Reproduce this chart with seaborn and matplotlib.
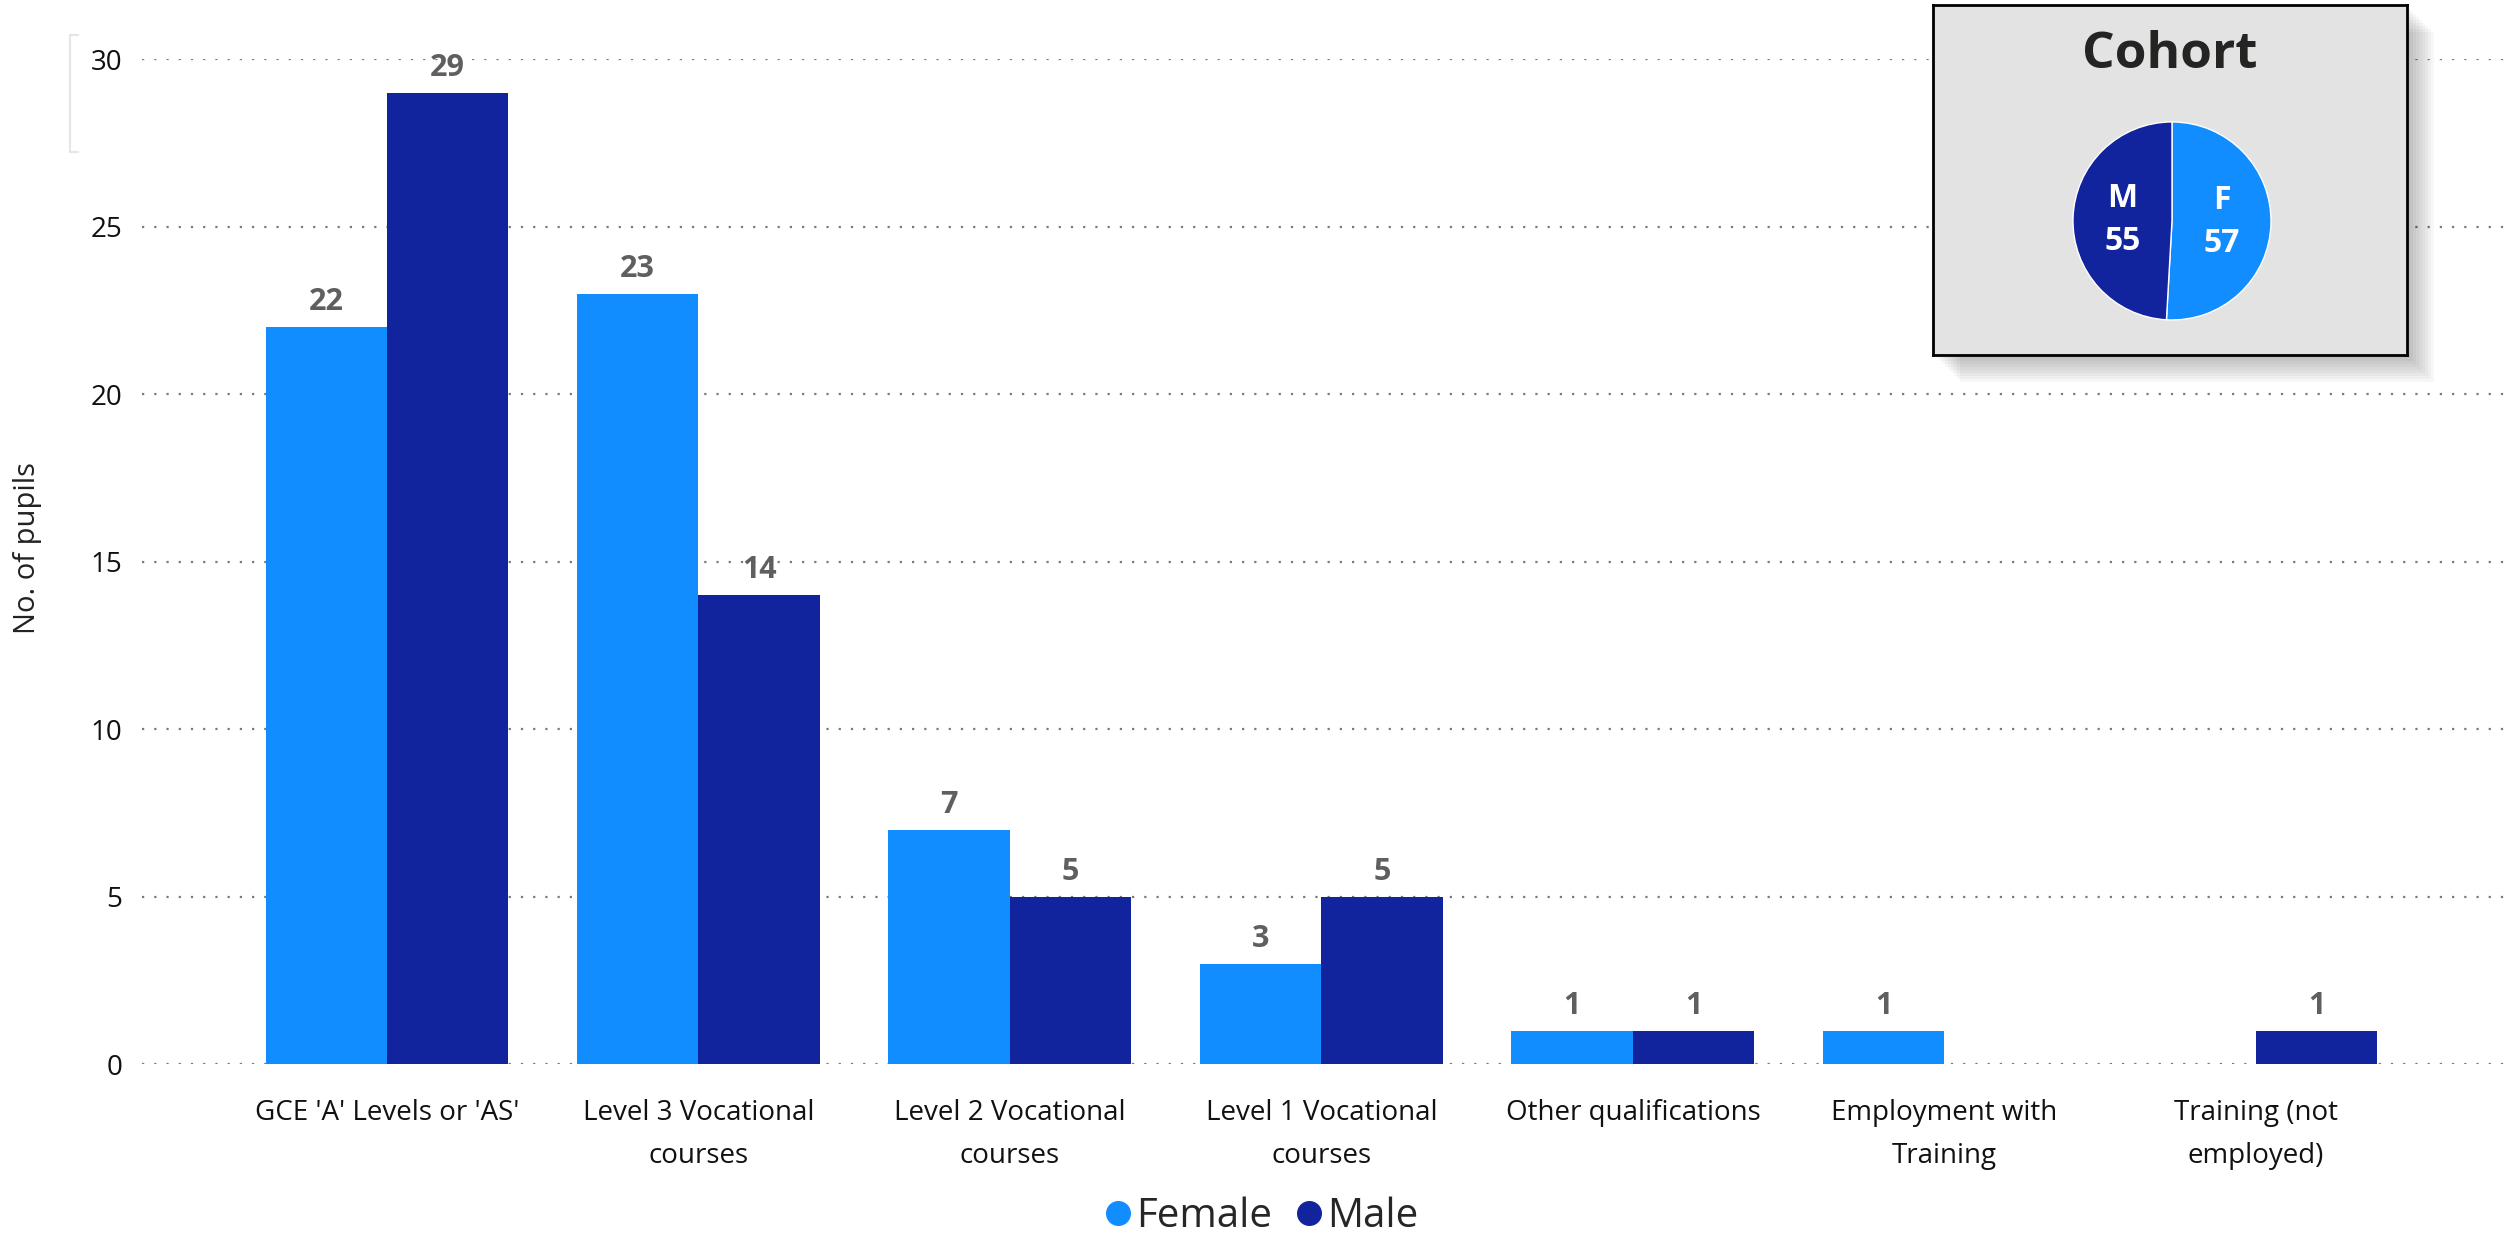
import pandas as pd
import matplotlib.pyplot as plt
import seaborn as sns
from matplotlib.lines import Line2D
from matplotlib.patches import Rectangle

# Data
categories = ["GCE 'A' Levels or 'AS'", "Level 3 Vocational\ncourses", "Level 2 Vocational\ncourses",
              "Level 1 Vocational\ncourses", "Other qualifications", "Employment with\nTraining",
              "Training (not\nemployed)"]
female = [22, 23, 7, 3, 1, 1, 0]
male = [29, 14, 5, 5, 1, 0, 1]
cohort_labels = ["F", "M"]
cohort_values = [57, 55]

female_col = '#118DFF'
male_col = '#12239E'

df = pd.DataFrame({
    'category': categories * 2,
    'pupils': female + male,
    'gender': ['Female'] * len(categories) + ['Male'] * len(categories),
})

sns.set_theme(style="white")
plt.rcParams['font.family'] = ['Open Sans', 'DejaVu Sans']

fig = plt.figure(figsize=(25.2, 12.33), dpi=100)
ax = fig.add_axes([0.0563, 0.137, 0.9385, 0.815])

sns.barplot(data=df, x='category', y='pupils', hue='gender', order=categories,
            palette={'Female': female_col, 'Male': male_col}, width=0.78, gap=0,
            saturation=1, linewidth=0, legend=False, ax=ax)

# value labels, skipping the empty bars
for cont in ax.containers:
    vals = cont.datavalues
    ax.bar_label(cont, labels=[f'{v:g}' if v > 0 else '' for v in vals], padding=7,
                 fontsize=22, fontweight='bold', color='#5F5F5F')

ax.set_ylim(0, 30)
ax.set_xlim(-0.787, 6.806)
ax.set_yticks(range(0, 31, 5))
ax.set_xticks(range(len(categories)))
ax.set_xticklabels(categories, linespacing=1.7)
ax.grid(axis='y', color='#7A7A7A', linestyle=(0, (1, 4.5)), linewidth=1.6)
ax.set_axisbelow(True)
sns.despine(ax=ax, left=True, bottom=True)
ax.tick_params(axis='both', length=0, labelsize=20, labelcolor='#111111')
ax.tick_params(axis='x', pad=25)
ax.tick_params(axis='y', pad=14)
ax.set_xlabel('')
ax.set_ylabel('No. of pupils', fontsize=21, color='#222222')
ax.yaxis.set_label_coords(-0.0423, 0.514)

# small bracket in the top-left corner
for xs, ys in [([0.0278, 0.0278], [0.877, 0.972]), ([0.0278, 0.031], [0.972, 0.972]),
               ([0.0278, 0.031], [0.877, 0.877])]:
    fig.add_artist(Line2D(xs, ys, color='#E6E6E6', lw=1.5))

# legend
handles = [Line2D([], [], marker='o', linestyle='', markersize=17, color=female_col),
           Line2D([], [], marker='o', linestyle='', markersize=17, color=male_col)]
fig.legend(handles, ['Female', 'Male'], loc='center', bbox_to_anchor=(0.5, 0.013), ncol=2,
           frameon=False, fontsize=29, handletextpad=0.05, columnspacing=0.5, handlelength=0.8)

# cohort inset with soft shadow
box = [0.767, 0.712, 0.188, 0.284]
for i in range(9):
    off = 0.0012 * (i + 1)
    fig.add_artist(Rectangle((box[0] + off * 1.0, box[1] - off * 2.0), box[2], box[3],
                             transform=fig.transFigure, facecolor='#000000', alpha=0.03,
                             edgecolor='none', zorder=2))
inset = fig.add_axes(box, zorder=3)
inset.set_facecolor('#E3E3E3')
inset.set_xticks([])
inset.set_yticks([])
for s in inset.spines.values():
    s.set_visible(True)
    s.set_color('black')
    s.set_linewidth(2)
inset.text(0.5, 0.858, 'Cohort', ha='center', va='center', fontsize=37, fontweight='bold',
           color='#252423', transform=inset.transAxes)

pie_ax = fig.add_axes([0.8226, 0.7405, 0.0786, 0.1606], zorder=4)
wedges, texts = pie_ax.pie(cohort_values, colors=[female_col, male_col], startangle=90,
                           counterclock=False, radius=1,
                           labels=[f'{l}\n{v}' for l, v in zip(cohort_labels, cohort_values)],
                           labeldistance=0.5,
                           textprops=dict(color='white', fontsize=23, fontweight='bold',
                                          ha='center', va='center', linespacing=1.4))
pie_ax.set_xlim(-1, 1)
pie_ax.set_ylim(-1, 1)
pie_ax.set_aspect('equal')

fig.savefig('out.png', dpi=100)
